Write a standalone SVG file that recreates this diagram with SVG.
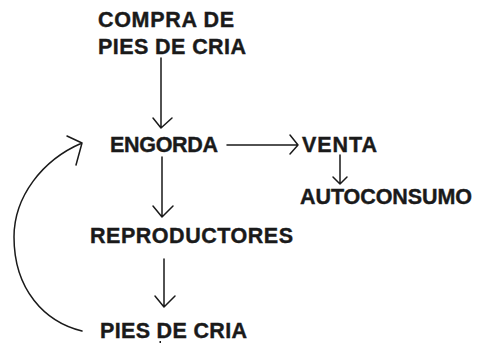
<svg xmlns="http://www.w3.org/2000/svg" width="477" height="344" viewBox="0 0 477 344">
<style>
  .t { font-family: "Liberation Sans", Arial, sans-serif; font-weight: bold; font-size: 21.5px; fill: #1a1a1a; stroke: #1a1a1a; stroke-width: 0.4px; }
  .c { fill: none; stroke: #1a1a1a; stroke-width: 1.5; stroke-linecap: round; stroke-linejoin: round; }
</style>
<rect width="477" height="344" fill="#ffffff"/>
<g id="compra"><text class="t" x="98" y="27" textLength="136" lengthAdjust="spacing">COMPRA DE</text><text class="t" x="98" y="53.5" textLength="148" lengthAdjust="spacing">PIES DE CRIA</text></g>
<g id="engorda"><text class="t" x="110" y="152" textLength="108" lengthAdjust="spacing">ENGORDA</text></g>
<g id="venta"><text class="t" x="302" y="152" textLength="75" lengthAdjust="spacing">VENTA</text></g>
<g id="autoconsumo"><text class="t" x="300" y="204" textLength="172" lengthAdjust="spacing">AUTOCONSUMO</text></g>
<g id="reproductores"><text class="t" x="90" y="243" textLength="203" lengthAdjust="spacing">REPRODUCTORES</text></g>
<g id="pies"><text class="t" x="100" y="338" textLength="147" lengthAdjust="spacing">PIES DE CRIA</text><rect x="159.5" y="341" width="1.5" height="2" fill="#1a1a1a"/></g>
<g id="connectors">
  <path class="c" d="M161,58 V128 M153,118 L161,128 L172,118"/>
  <path class="c" d="M227,145 H298 M290,135 L298,145 L290,154"/>
  <path class="c" d="M340,155 V184 M333,177 L340,184 L347,177"/>
  <path class="c" d="M162,157 V217 M153,206 L162,217 L173,206"/>
  <path class="c" d="M164,259 V307 M155,296 L164,307 L175,296"/>
  <path class="c" d="M82,331 C45,322 14,290 14,237 C14,197 42,160 82,143 M67,136 L82,143 L76,165"/>
</g>
</svg>
